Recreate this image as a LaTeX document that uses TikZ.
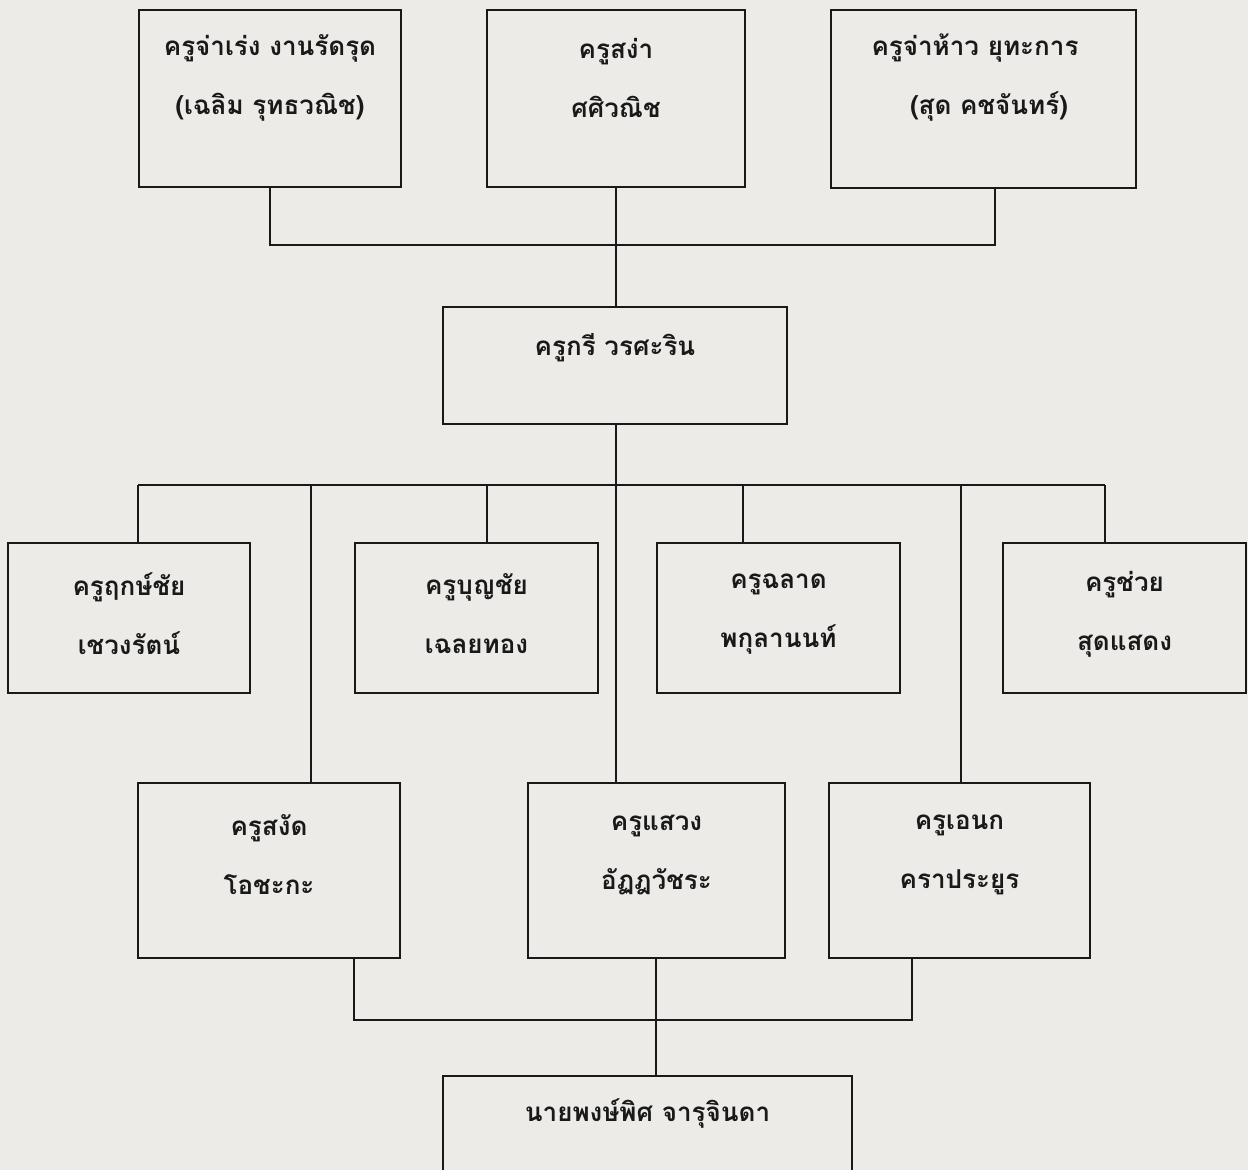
\documentclass[tikz,border=0pt]{standalone}
\usepackage{fontspec}
\newfontfamily\thaifont[Script=Thai]{Loma}
\begin{document}
\begin{tikzpicture}[x=0.5pt,y=-0.5pt,
  box/.style={draw=black!90, line width=1.2pt, minimum width=#1, inner sep=0pt},
  lbl/.style={align=center, text=black!90, font=\thaifont\bfseries\fontsize{13}{29.5}\selectfont},
  conn/.style={draw=black!90, line width=1.2pt}]
\path[use as bounding box, fill={rgb,255:red,236;green,235;blue,232}] (0,0) rectangle (1248,1170);
\clip (0,0) rectangle (1248,1170);
% top row
\node[box=131pt, minimum height=88.5pt] (A) at (270,98.5) {};
\node[box=129pt, minimum height=88.5pt] (B) at (616,98.5) {};
\node[box=152.5pt, minimum height=89pt] (C) at (983.5,99) {};
\node[lbl] (At) at (270,78) {ครูจ่าเร่ง งานรัดรุด\\(เฉลิม รุทธวณิช)};
\node[lbl] (Bt) at (616,78) {ครูสง่า\\ศศิวณิช};
\node[lbl] (Ct) at (975,78) {ครูจ่าห้าว ยุทะการ\\\hspace*{14pt}(สุด คชจันทร์)};
% middle
\node[box=172pt, minimum height=58.5pt] (D) at (615,365.5) {};
\node[lbl] (Dt) at (615,348) {ครูกรี วรศะริน};
% row 2
\node[box=121pt, minimum height=75pt] (E) at (129,618) {};
\node[box=121.5pt, minimum height=75pt] (F) at (476.5,618) {};
\node[box=121.5pt, minimum height=75pt] (G) at (778.5,618) {};
\node[box=121.5pt, minimum height=75pt] (H) at (1124.5,618) {};
\node[lbl] (Et) at (129,614) {ครูฤกษ์ชัย\\เชวงรัตน์};
\node[lbl] (Ft) at (476.5,614) {ครูบุญชัย\\เฉลยทอง};
\node[lbl] (Gt) at (778.5,614) {ครูฉลาด\\พกุลานนท์};
\node[lbl] (Ht) at (1124.5,614) {ครูช่วย\\สุดแสดง};
% row 3
\node[box=131pt, minimum height=87.5pt] (I) at (269,870.5) {};
\node[box=128.5pt, minimum height=87.5pt] (J) at (656.5,870.5) {};
\node[box=130.5pt, minimum height=87.5pt] (K) at (959.5,870.5) {};
\node[lbl] (It) at (269,855) {ครูสงัด\\โอชะกะ};
\node[lbl] (Jt) at (656.5,855) {ครูแสวง\\อัฏฎวัชระ};
\node[lbl] (Kt) at (959.5,855) {ครูเอนก\\คราประยูร};
% bottom
\node[box=204.5pt, minimum height=55pt] (L) at (647.5,1131) {};
\node[lbl] (Lt) at (647.5,1113) {นายพงษ์พิศ จารุจินดา};
% junction coordinates
\coordinate (j1) at (616,245);
\coordinate (Cj) at (995,188);
\coordinate (bar) at (616,485);
\coordinate (pE) at (138,485);
\coordinate (pF) at (487,485);
\coordinate (pG) at (743,485);
\coordinate (pH) at (1105,485);
\coordinate (pI) at (311,485);
\coordinate (pK) at (961,485);
\coordinate (j2) at (656,1020);
\coordinate (qI) at (354,958);
\coordinate (qK) at (912,958);
% connectors
\draw[conn] (A.south) -- (A.south |- j1) -- (Cj |- j1) -- (Cj);
\draw[conn] (B.south) -- (B.south |- D.north);
\draw[conn] (bar |- D.south) -- (bar);
\draw[conn] (pE) -- (pH);
\draw[conn] (pE) -- (pE |- E.north);
\draw[conn] (pF) -- (pF |- F.north);
\draw[conn] (pG) -- (pG |- G.north);
\draw[conn] (pH) -- (pH |- H.north);
\draw[conn] (pI) -- (pI |- I.north);
\draw[conn] (bar) -- (bar |- J.north);
\draw[conn] (pK) -- (pK |- K.north);
\draw[conn] (qI) -- (qI |- j2) -- (qK |- j2) -- (qK);
\draw[conn] (j2 |- J.south) -- (j2) -- (j2 |- L.north);
\end{tikzpicture}
\end{document}
